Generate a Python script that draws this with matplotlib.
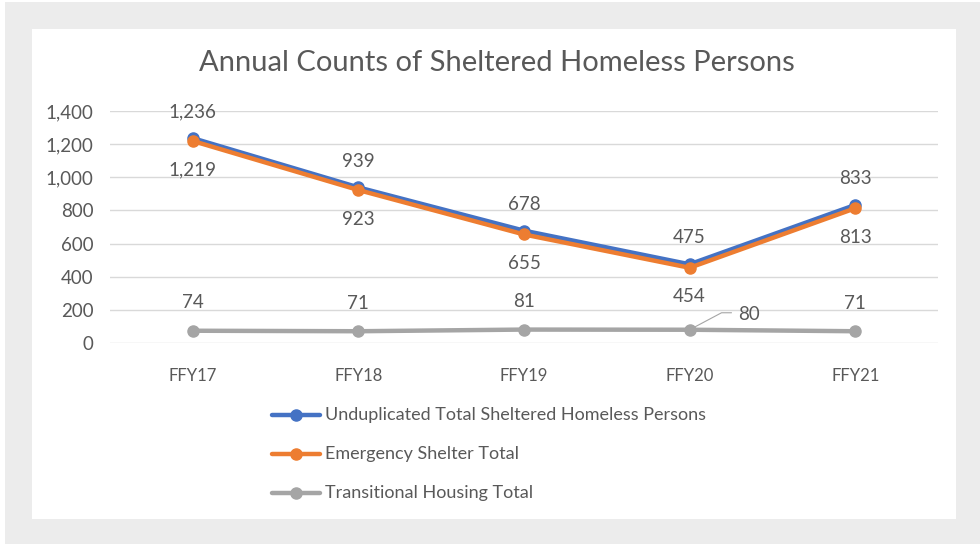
import matplotlib.pyplot as plt
from matplotlib.patches import Rectangle

years = ["FFY17", "FFY18", "FFY19", "FFY20", "FFY21"]
unduplicated = [1236, 939, 678, 475, 833]
emergency = [1219, 923, 655, 454, 813]
transitional = [74, 71, 81, 80, 71]

series_names = ["Unduplicated Total Sheltered Homeless Persons",
                "Emergency Shelter Total",
                "Transitional Housing Total"]
colors = ["#4472C4", "#ED7D31", "#A5A5A5"]
text_color = "#595959"

plt.rcParams['font.family'] = ['Lato', 'DejaVu Sans']

W, H = 980, 544
fig = plt.figure(figsize=(W / 100, H / 100), dpi=100)
fig.patch.set_facecolor("white")

# grey frame and white chart panel
fig.patches.append(Rectangle((5 / W, 0), 1 - 5 / W, 1 - 2 / H, transform=fig.transFigure,
                             facecolor="#ececec", edgecolor="none", zorder=-2))
fig.patches.append(Rectangle((32 / W, 1 - 519 / H), (956 - 32) / W, (519 - 29) / H,
                             transform=fig.transFigure, facecolor="white",
                             edgecolor="none", zorder=-1))

ax = fig.add_axes([110 / W, 1 - 343 / H, (938 - 110) / W, (343 - 111) / H])
ax.set_facecolor("none")
ax.set_zorder(2)

x = list(range(len(years)))
for vals, c in zip([unduplicated, emergency, transitional], colors):
    ax.plot(x, vals, color=c, lw=3.2, marker="o", ms=8, solid_capstyle="round",
            zorder=3, clip_on=False)

ax.set_xlim(-0.5, len(years) - 0.5)
ax.set_ylim(0, 1400)
ax.set_yticks(range(0, 1401, 200))
ax.set_yticklabels([f"{v:,}" for v in range(0, 1401, 200)])
ax.set_xticks(x)
ax.set_xticklabels(years)
ax.tick_params(axis="both", length=0, colors=text_color)
ax.tick_params(axis="x", pad=18, labelsize=12)
ax.tick_params(axis="y", pad=12, labelsize=13.5)
ax.grid(axis="y", color="#d9d9d9", lw=1)
ax.set_axisbelow(True)
for s in ax.spines.values():
    s.set_visible(False)

# data labels
lab_fs = 13.5
for i in x:
    ax.annotate(f"{unduplicated[i]:,}", (i, unduplicated[i]), xytext=(0, 19),
                textcoords="offset points", ha="center", va="center",
                fontsize=lab_fs, color=text_color)
    ax.annotate(f"{emergency[i]:,}", (i, emergency[i]), xytext=(0, -21),
                textcoords="offset points", ha="center", va="center",
                fontsize=lab_fs, color=text_color)
    if i == 3:
        # label pushed aside with a leader line
        ax.annotate(f"{transitional[i]:,}", (i, transitional[i]), xytext=(43, 11),
                    textcoords="offset points", ha="center", va="center",
                    fontsize=lab_fs, color=text_color,
                    arrowprops=dict(arrowstyle="-", color="#a5a5a5", lw=0.8,
                                    shrinkA=3, shrinkB=2, relpos=(0, 0.6),
                                    connectionstyle="angle,angleA=0,angleB=28,rad=0"))
    else:
        ax.annotate(f"{transitional[i]:,}", (i, transitional[i]), xytext=(0, 20),
                    textcoords="offset points", ha="center", va="center",
                    fontsize=lab_fs, color=text_color)

fig.text(497 / W, 1 - 63 / H, "Annual Counts of Sheltered Homeless Persons",
         ha="center", va="center", fontsize=21, color=text_color)

# legend drawn manually below the plot
legend_y = [415, 454, 493]
for name, c, ly in zip(series_names, colors, legend_y):
    yf = 1 - ly / H
    fig.add_artist(plt.Line2D([272 / W, 320 / W], [yf, yf], color=c, lw=3.2,
                              solid_capstyle="round", transform=fig.transFigure))
    fig.add_artist(plt.Line2D([296 / W], [yf], color=c, marker="o", ms=8,
                              transform=fig.transFigure))
    fig.text(325 / W, yf, name, ha="left", va="center", fontsize=13, color=text_color)

fig.savefig("out.png", dpi=100)
